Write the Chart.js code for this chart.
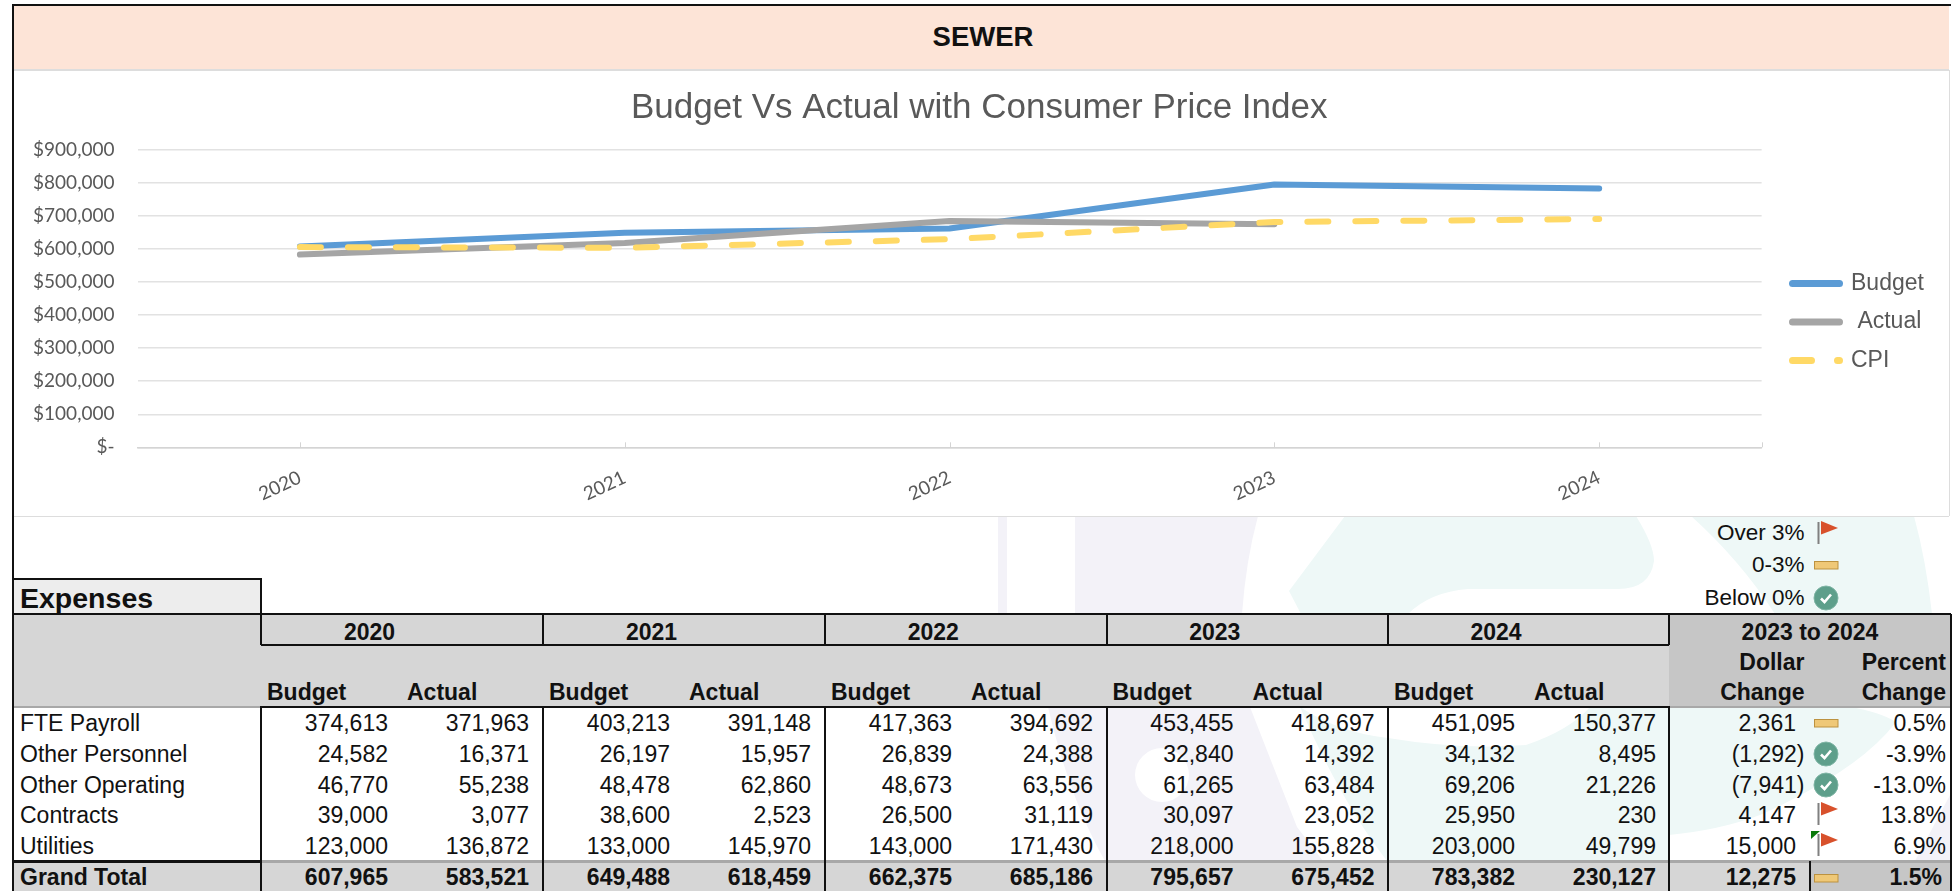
<!DOCTYPE html>
<html>
<head>
<meta charset="utf-8">
<title>SEWER</title>
<script src="https://cdn.jsdelivr.net/npm/chart.js@4"></script>
<style>
html,body{margin:0;padding:0;background:#fff;width:1954px;height:891px;overflow:hidden;font-family:"Liberation Sans",Arial,sans-serif;}
#page{position:relative;width:1954px;height:891px;overflow:hidden;}
.r{position:absolute;}
.t{position:absolute;white-space:nowrap;line-height:1;color:#111;font-size:23px;}
.t.b{font-weight:bold;}
#panel{position:absolute;left:14px;top:70px;width:1935px;height:446px;background:#fff;}
#chart{position:absolute;left:14px;top:70px;}
svg{position:absolute;overflow:visible;}
</style>
</head>
<body>
<div id="page">
<svg id="wm" style="left:0;top:0" width="1954" height="891">
  <g fill="#F3F2F8">
    <rect x="998" y="516" width="9" height="98"/>
    <path d="M1075 516H1258Q1246 560 1242 614H1075Z"/>
    <path fill-rule="evenodd" d="M1048 707H1250L1297 827L1323 861H1105Q1070 800 1048 707ZM1135 775a27 27 0 1 0 54 0a27 27 0 1 0 -54 0Z"/>
    <path d="M1950 795L1915 861H1950Z"/>
  </g>
  <g fill="#EEF8F7">
    <path d="M1345 516H1636Q1654 545 1654 561Q1650 589 1618 589H1468Q1430 592 1408 614H1301L1289 591Z"/>
    <path d="M1691 516H1914Q1926 560 1932 614H1775Q1740 560 1691 516Z"/>
    <path d="M1300 707Q1340 733 1388 738Q1460 750 1526 745Q1570 730 1590 707H1850Q1880 712 1896 722Q1860 770 1760 815Q1720 830 1669 835V861H1387Q1340 800 1300 707Z"/>
  </g>
</svg>
<div id="panel"></div>
<canvas id="chart" width="1935" height="446"></canvas>
</div>
<script>
// ---- Chart data ----
const categories = ['2020', '2021', '2022', '2023', '2024'];
const budgetValues = [607965, 649488, 662375, 795657, 783382];
const actualValues = [583521, 618459, 685186, 675452, null];
const cpiValues = [606000, 604000, 630000, 682000, 691000];
const yTickLabels = ['$-', '$100,000', '$200,000', '$300,000', '$400,000', '$500,000', '$600,000', '$700,000', '$800,000', '$900,000'];
const seriesNames = ['Budget', 'Actual', 'CPI'];
const chartTitle = 'Budget Vs Actual with Consumer Price Index';

// ---- Table data ----
const sheetTitle = 'SEWER';
const tableYears = ['2020', '2021', '2022', '2023', '2024'];
const rowNames = ['FTE Payroll', 'Other Personnel', 'Other Operating', 'Contracts', 'Utilities'];
const row0 = ['374,613', '371,963', '403,213', '391,148', '417,363', '394,692', '453,455', '418,697', '451,095', '150,377'];
const row1 = ['24,582', '16,371', '26,197', '15,957', '26,839', '24,388', '32,840', '14,392', '34,132', '8,495'];
const row2 = ['46,770', '55,238', '48,478', '62,860', '48,673', '63,556', '61,265', '63,484', '69,206', '21,226'];
const row3 = ['39,000', '3,077', '38,600', '2,523', '26,500', '31,119', '30,097', '23,052', '25,950', '230'];
const row4 = ['123,000', '136,872', '133,000', '145,970', '143,000', '171,430', '218,000', '155,828', '203,000', '49,799'];
const totalRow = ['607,965', '583,521', '649,488', '618,459', '662,375', '685,186', '795,657', '675,452', '783,382', '230,127'];
const dollarChange = ['2,361', '(1,292)', '(7,941)', '4,147', '15,000'];
const percentChange = ['0.5%', '-3.9%', '-13.0%', '13.8%', '6.9%'];
const changeIcons = ['bar', 'check', 'check', 'flag', 'flag'];
const totalDollar = '12,275';
const totalPercent = '1.5%';
const keyLabels = ['Over 3%', '0-3%', 'Below 0%'];
const keyIcons = ['flag', 'bar', 'check'];

// ---- Page furniture ----
const page = document.getElementById('page');
function rect(x, y, w, h, c) {
  const d = document.createElement('div');
  d.className = 'r';
  d.style.cssText = `left:${x}px;top:${y}px;width:${w}px;height:${h}px;background:${c}`;
  page.appendChild(d);
}
function text(s, x, y, align, bold, size) {
  const d = document.createElement('div');
  d.className = 't' + (bold ? ' b' : '');
  d.textContent = s;
  const tx = align === 'r' ? '-100%' : align === 'c' ? '-50%' : '0';
  d.style.cssText = `left:${x}px;top:${y}px;transform:translate(${tx},-50%);` + (size ? `font-size:${size}px;` : '');
  page.appendChild(d);
}
function icon(kind, cy) {
  const ns = 'http://www.w3.org/2000/svg';
  const s = document.createElementNS(ns, 'svg');
  s.setAttribute('width', 26); s.setAttribute('height', 26);
  s.style.left = '1813px'; s.style.top = (cy - 13) + 'px';
  if (kind === 'bar') {
    s.innerHTML = '<rect x="1.5" y="9.5" width="23.5" height="7.5" fill="#EFC877" stroke="#BC9240" stroke-width="1"/>';
  } else if (kind === 'check') {
    s.innerHTML = '<circle cx="13" cy="13" r="12" fill="#5E9F8B" stroke="#7FB5A5" stroke-width="1"/><path d="M8 13.5l3.5 3.5L18 9.5" fill="none" stroke="#fff" stroke-width="2.6"/>';
  } else {
    s.innerHTML = '<rect x="4.5" y="2" width="2" height="22" fill="#808080"/><path d="M8 1L25 8L8 14.5Z" fill="#D8512C"/>';
  }
  page.appendChild(s);
}

const GH = '#D6D6D6', GD = '#C6C6C6', BK = '#111', GL = '#A8A8A8';
// outer frame and title band
rect(12, 4, 1939, 2, BK);
rect(12, 4, 2, 887, BK);
rect(14, 6, 1935, 63, '#FDE4D7');
rect(14, 69, 1935, 1.5, '#DDDDDD');
rect(14, 515.5, 1935, 1.5, '#DDDDDD');
rect(1948.5, 70, 1.5, 446, '#DDDDDD');
text(sheetTitle, 983, 37, 'c', true, 27.5);

// header fills
rect(14, 579, 247, 35, '#EDEDED');
rect(14, 614, 1655, 93, GH);
rect(1669, 614, 281, 93, GD);
rect(14, 861, 1796, 30, GH);
rect(1810, 861, 140, 30, GD);

// rules
const dividers = [261, 543, 825, 1106.5, 1388, 1669];
rect(14, 578, 248, 2, BK);
rect(260, 578, 2, 36, BK);
rect(14, 613, 1937, 2, BK);
rect(261, 644, 1408, 2, BK);
rect(14, 705.5, 247, 2, GL);
rect(261, 705.5, 1408, 2.5, BK);
rect(1669, 705.5, 281, 2, GL);
rect(14, 860, 247, 2.5, BK);
rect(261, 860, 1689, 2.5, GL);
dividers.forEach(x => {
  rect(x - 1, 614, 2, 31, BK);
  rect(x - 1, 706, 2, 185, BK);
});
rect(1950, 614, 2, 277, BK);
rect(1809, 861, 2, 30, BK);

// key
const keyY = [533, 565, 598];
keyLabels.forEach((s, i) => { text(s, 1804.5, keyY[i], 'r', false, 22.5); icon(keyIcons[i], keyY[i] + (i === 0 ? -0.5 : 0)); });

// headers
text('Expenses', 20, 598, 'l', true, 28.5);
tableYears.forEach((y, i) => {
  text(y, (dividers[i] + dividers[i + 1]) / 2 - 32.5, 631.5, 'c', true);
  text('Budget', dividers[i] + 6, 692, 'l', true);
  text('Actual', dividers[i] + 146, 692, 'l', true);
});
text('2023 to 2024', 1810, 631.5, 'c', true);
text('Dollar', 1804.5, 661.5, 'r', true);
text('Change', 1804.5, 692, 'r', true);
text('Percent', 1946, 661.5, 'r', true);
text('Change', 1946, 692, 'r', true);

// body
const rowY = [723, 753.5, 784.5, 815, 846];
const rows = [row0, row1, row2, row3, row4];
function yearCols(vals, y, bold) {
  vals.forEach((v, k) => {
    const i = Math.floor(k / 2);
    text(v, dividers[i] + (k % 2 ? 268 : 127), y, 'r', bold);
  });
}
rows.forEach((vals, r) => {
  text(rowNames[r], 20, rowY[r], 'l', false);
  yearCols(vals, rowY[r], false);
  text(dollarChange[r], dollarChange[r].startsWith('(') ? 1804.5 : 1796, rowY[r], 'r');
  text(percentChange[r], 1946, rowY[r], 'r');
  icon(changeIcons[r], rowY[r] + (changeIcons[r] === 'flag' ? -1.5 : 0));
});
text('Grand Total', 20, 876.5, 'l', true);
yearCols(totalRow, 876.5, true);
text(totalDollar, 1796, 876.5, 'r', true);
text(totalPercent, 1942, 876.5, 'r', true);
icon('bar', 877.5);
// comment marker on the Utilities row
const marker = document.createElementNS('http://www.w3.org/2000/svg', 'svg');
marker.setAttribute('width', 10); marker.setAttribute('height', 9);
marker.style.left = '1811px'; marker.style.top = '831px';
marker.innerHTML = '<path d="M0 0H9L0 8Z" fill="#0B7A0B"/>';
page.appendChild(marker);

// ---- Chart ----
const GRID = '#E2E2E2';
const tickMarks = {
  id: 'tickMarks',
  afterDatasetsDraw(chart) {
    const s = chart.scales.x, c = chart.ctx;
    c.save();
    c.strokeStyle = '#D4D4D4';
    c.lineWidth = 1;
    const xs = s.ticks.map((_, i) => s.getPixelForTick(i)).concat([s.right]);
    xs.forEach(x => {
      const px = Math.round(x) + 0.5;
      c.beginPath(); c.moveTo(px, s.top - 5); c.lineTo(px, s.top); c.stroke();
    });
    c.restore();
  }
};
const legendPlacer = {
  id: 'legendPlacer',
  afterLayout(chart) {
    const l = chart.legend;
    const w = l.right - l.left, h = l.bottom - l.top;
    l.left = 1763; l.right = l.left + w;
    const mid = 252;
    l.top = mid - h / 2; l.bottom = mid + h / 2;
    chart.titleBlock.left += 26;
  }
};
new Chart(document.getElementById('chart'), {
  type: 'line',
  plugins: [tickMarks, legendPlacer],
  data: {
    labels: categories,
    datasets: [
      { label: seriesNames[0], data: budgetValues, borderColor: '#5B9BD5', backgroundColor: '#5B9BD5', order: 3 },
      { label: seriesNames[1], data: actualValues, borderColor: '#A5A5A5', backgroundColor: '#A5A5A5', order: 2 },
      { label: seriesNames[2], data: cpiValues, borderColor: '#FFD966', backgroundColor: '#FFD966', borderDash: [21, 27], order: 1 }
    ]
  },
  options: {
    responsive: false,
    animation: false,
    devicePixelRatio: 1,
    layout: { padding: { left: 0, right: 30.5, top: 0, bottom: 0 } },
    elements: {
      line: { borderWidth: 6, tension: 0, borderCapStyle: 'round', borderJoinStyle: 'round' },
      point: { radius: 0, hoverRadius: 0 }
    },
    plugins: {
      tooltip: { enabled: false },
      title: {
        display: true,
        text: chartTitle,
        color: '#595959',
        font: { family: '"Liberation Sans", Arial, sans-serif', size: 35, weight: 'normal', lineHeight: 1.2 },
        padding: { top: 17, bottom: 21 }
      },
      legend: {
        position: 'right',
        align: 'center',
        labels: {
          usePointStyle: true,
          pointStyle: 'line',
          pointStyleWidth: 47,
          color: '#595959',
          padding: 15.5,
          font: { family: '"Liberation Sans", Arial, sans-serif', size: 23 },
          sort: (a, b) => a.datasetIndex - b.datasetIndex,
          generateLabels(chart) {
            return Chart.defaults.plugins.legend.labels.generateLabels(chart).map(it => {
              const ds = chart.data.datasets[it.datasetIndex];
              it.lineWidth = 7;
              it.lineCap = 'round';
              it.lineDash = ds.borderDash ? [19, 26] : [];
              if (it.text === 'Actual') it.text = ' Actual';
              return it;
            });
          }
        }
      }
    },
    scales: {
      x: {
        offset: true,
        grid: { display: false },
        border: { display: true, color: '#D4D4D4', width: 1.5 },
        ticks: {
          color: '#595959',
          minRotation: 25,
          maxRotation: 25,
          padding: 11,
          font: { family: 'Lato, sans-serif', size: 19 }
        },
        afterFit(s) { s.height = 68.7; }
      },
      y: {
        min: 0,
        max: 900000,
        grid: { color: GRID, lineWidth: 1.5, drawTicks: false },
        border: { display: false },
        ticks: {
          stepSize: 100000,
          color: '#595959',
          padding: 23,
          font: { family: 'Lato, sans-serif', size: 19 },
          callback: (v) => yTickLabels[Math.round(v / 100000)]
        },
        afterFit(s) { s.width = 123.5; }
      }
    }
  }
});
</script>
</body>
</html>
